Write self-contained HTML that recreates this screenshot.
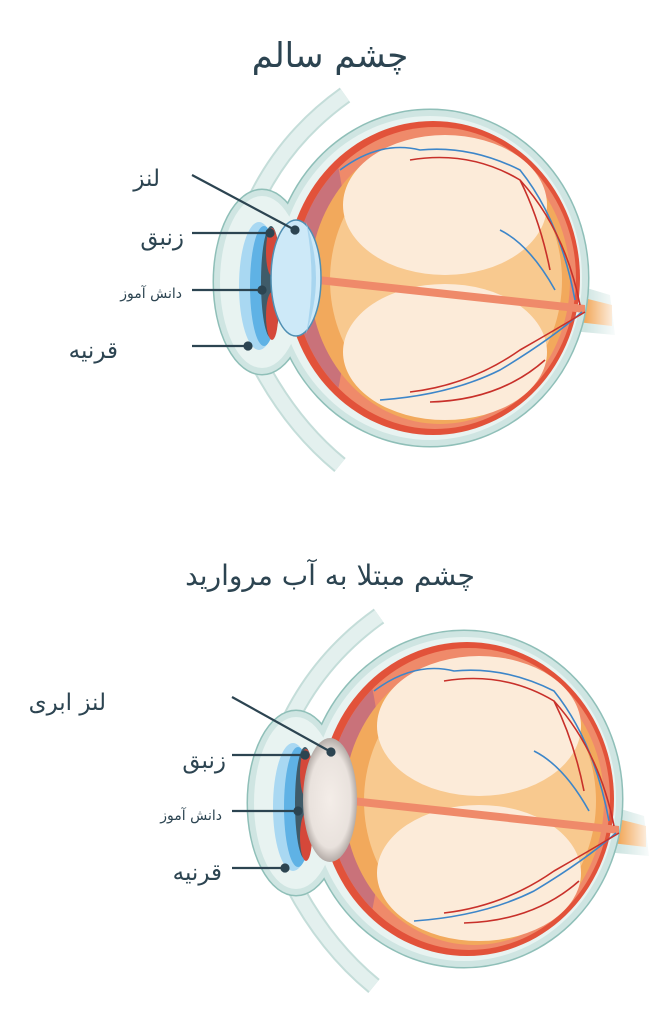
<!DOCTYPE html>
<html><head><meta charset="utf-8"><style>
html,body{margin:0;padding:0;background:#fff;}
svg{display:block;}
text{font-family:"DejaVu Sans",sans-serif;fill:#2c4451;}
</style></head><body>
<svg width="665" height="1024" viewBox="0 0 665 1024" xmlns="http://www.w3.org/2000/svg">
<defs>
<radialGradient id="cl" cx="0.5" cy="0.5" r="0.55">
<stop offset="0" stop-color="#f4ede8"/><stop offset="0.7" stop-color="#e9e2dd"/><stop offset="1" stop-color="#9d9490"/>
</radialGradient>
<linearGradient id="fade" x1="0" x2="1">
<stop offset="0" stop-color="#fff" stop-opacity="0"/><stop offset="1" stop-color="#fff" stop-opacity="1"/>
</linearGradient>
<clipPath id="salm"><ellipse cx="435" cy="278" rx="141" ry="151"/></clipPath>
<g id="eye">
 <!-- eyelids -->
 <path d="M245 225 Q275 145 345 95" stroke="#9cc7c0" stroke-width="18" fill="none" opacity="0.6"/>
 <path d="M245 225 Q275 145 345 95" stroke="#e3f0ee" stroke-width="14" fill="none"/>
 <path d="M250 345 Q285 420 340 465" stroke="#9cc7c0" stroke-width="18" fill="none" opacity="0.6"/>
 <path d="M250 345 Q285 420 340 465" stroke="#e3f0ee" stroke-width="14" fill="none"/>
 <!-- optic nerve -->
 <path d="M560 280 L610 295 L615 335 L560 330 Z" fill="#cfe5e2"/>
 <path d="M560 292 L612 305 L612 326 L560 320 Z" fill="#f2a95c"/>
 <rect x="585" y="285" width="35" height="60" fill="url(#fade)"/>
 <!-- sclera + cornea (union) -->
 <ellipse cx="262" cy="282" rx="48" ry="92" fill="#cfe5e2" stroke="#8fbfb8" stroke-width="3"/>
 <ellipse cx="430" cy="278" rx="158" ry="168" fill="#cfe5e2" stroke="#8fbfb8" stroke-width="3"/>
 <ellipse cx="262" cy="282" rx="48" ry="92" fill="#cfe5e2"/>
 <ellipse cx="430" cy="278" rx="158" ry="168" fill="#cfe5e2"/>
 <ellipse cx="430" cy="278" rx="152" ry="162" fill="#e8f3f1"/>
 <ellipse cx="262" cy="282" rx="42" ry="86" fill="#e8f3f1"/>
 <!-- layers -->
 <ellipse cx="433" cy="278" rx="147" ry="157" fill="#e2523a"/>
 <ellipse cx="435" cy="278" rx="141" ry="151" fill="#ef8a6a"/>
 <ellipse cx="318" cy="278" rx="30" ry="150" fill="#c9727a" clip-path="url(#salm)"/>
 <ellipse cx="440" cy="280" rx="130" ry="144" fill="#f2a95c"/>
 <ellipse cx="446" cy="280" rx="116" ry="132" fill="#f8c98f"/>
 <ellipse cx="445" cy="205" rx="102" ry="70" fill="#fcebd9"/>
 <ellipse cx="445" cy="352" rx="102" ry="68" fill="#fcebd9"/>
 <path d="M318 276 L585 305 L585 313 L318 284 Z" fill="#ef8a6a"/>
 <!-- vessels -->
 <g fill="none" stroke-width="1.6">
  <path d="M340 170 Q380 140 420 150 Q470 145 520 170 Q560 220 575 300" stroke="#3d86c9"/>
  <path d="M410 160 Q470 150 520 180 Q565 230 580 305" stroke="#c8302a"/>
  <path d="M520 180 Q540 220 550 270" stroke="#c8302a"/>
  <path d="M500 230 Q530 245 555 290" stroke="#3d86c9"/>
  <path d="M380 400 Q450 395 500 370 Q550 340 582 312" stroke="#3d86c9"/>
  <path d="M410 392 Q470 385 520 350 Q555 330 585 312" stroke="#c8302a"/>
  <path d="M430 402 Q500 400 545 360" stroke="#c8302a"/>
 </g>
 <!-- cornea -->
 <ellipse cx="259" cy="286" rx="20" ry="64" fill="#a9d8f2"/>
 <ellipse cx="264" cy="286" rx="14" ry="60" fill="#5fb2e5"/>
 <ellipse cx="271" cy="282" rx="10" ry="56" fill="#3f5b69"/>
 <ellipse cx="272" cy="252" rx="6" ry="24" fill="#d5483a"/>
 <ellipse cx="272" cy="316" rx="6" ry="24" fill="#d5483a"/>
</g>
</defs>

<text x="330" y="67" font-size="34" text-anchor="middle">چشم سالم</text>
<use href="#eye"/>
<ellipse cx="296" cy="278" rx="25" ry="58" fill="#cde9f8" stroke="#4f8fb3" stroke-width="1.5"/>
<path d="M306 222 Q326 278 306 334 Q317 278 306 222Z" fill="#a8d5ef"/>

<g stroke="#2c4451" stroke-width="2.2" fill="#2c4451">
 <line x1="192" y1="175" x2="295" y2="230"/><circle cx="295" cy="230" r="3.5"/>
 <line x1="192" y1="233" x2="270" y2="233"/><circle cx="270" cy="233" r="3.5"/>
 <line x1="192" y1="290" x2="262" y2="290"/><circle cx="262" cy="290" r="3.5"/>
 <line x1="192" y1="346" x2="248" y2="346"/><circle cx="248" cy="346" r="3.5"/>
</g>
<text x="160" y="186" font-size="23" text-anchor="end">لنز</text>
<text x="184" y="245" font-size="23" text-anchor="end">زنبق</text>
<text x="182" y="298" font-size="14" text-anchor="end">دانش آموز</text>
<text x="118" y="358" font-size="23" text-anchor="end">قرنیه</text>

<text x="330" y="585" font-size="28" text-anchor="middle">چشم مبتلا به آب مروارید</text>
<g transform="translate(34,521)"><use href="#eye"/></g>
<ellipse cx="330" cy="800" rx="27" ry="62" fill="url(#cl)"/>

<g stroke="#2c4451" stroke-width="2.2" fill="#2c4451">
 <line x1="232" y1="697" x2="331" y2="752"/><circle cx="331" cy="752" r="3.5"/>
 <line x1="232" y1="755" x2="305" y2="755"/><circle cx="305" cy="755" r="3.5"/>
 <line x1="232" y1="811" x2="298" y2="811"/><circle cx="298" cy="811" r="3.5"/>
 <line x1="232" y1="868" x2="285" y2="868"/><circle cx="285" cy="868" r="3.5"/>
</g>
<text x="106" y="710" font-size="23" text-anchor="end">لنز ابری</text>
<text x="226" y="768" font-size="23" text-anchor="end">زنبق</text>
<text x="222" y="820" font-size="14" text-anchor="end">دانش آموز</text>
<text x="222" y="880" font-size="23" text-anchor="end">قرنیه</text>
</svg>
</body></html>
